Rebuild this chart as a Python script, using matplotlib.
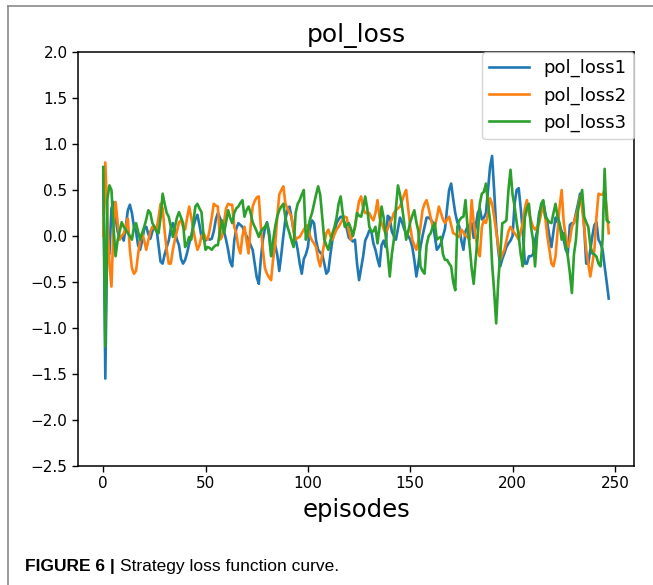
import numpy as np
import matplotlib
matplotlib.use('Agg')
import matplotlib.pyplot as plt
from matplotlib.lines import Line2D

# values, episodes 0..247
pol_loss1 = [
    0.65, -1.55, 0.10, -0.20, 0.30, 0.37, 0.20, 0.05, -0.02, 0.00,
    -0.05, 0.10, 0.28, 0.34, 0.25, 0.10, 0.05, -0.10, -0.15, -0.05,
    0.08, 0.10, 0.02, -0.03, 0.05, 0.10, 0.08, -0.10, -0.28, -0.30,
    -0.20, -0.12, -0.05, 0.08, 0.14, 0.05, -0.04, -0.10, -0.25, -0.30,
    -0.26, -0.18, -0.08, 0.00, 0.10, 0.18, 0.23, 0.12, -0.01, -0.03,
    -0.05, -0.02, -0.04, -0.03, 0.05, 0.18, 0.25, 0.20, 0.14, 0.05,
    -0.04, -0.15, -0.28, -0.33, -0.05, 0.08, 0.14, 0.12, 0.10, 0.05,
    0.00, -0.04, -0.10, -0.15, -0.30, -0.45, -0.52, -0.25, -0.04, 0.08,
    0.15, 0.05, -0.15, -0.22, -0.10, -0.20, -0.38, -0.20, 0.00, 0.18,
    0.28, 0.32, 0.20, 0.06, -0.04, -0.15, -0.30, -0.41, -0.25, -0.20,
    -0.12, 0.08, 0.17, 0.14, -0.05, -0.15, -0.18, -0.20, -0.30, -0.41,
    -0.38, -0.20, -0.04, 0.05, 0.14, 0.18, 0.21, 0.20, 0.14, 0.08,
    -0.02, -0.04, -0.06, -0.04, -0.30, -0.48, -0.35, -0.22, -0.05, 0.00,
    0.06, 0.05, -0.08, -0.15, -0.25, -0.33, -0.10, -0.05, -0.12, 0.22,
    0.20, 0.05, 0.00, -0.04, 0.08, 0.20, 0.15, 0.08, 0.03, 0.00,
    -0.04, -0.12, -0.26, -0.44, -0.30, -0.12, 0.00, 0.10, 0.20, 0.20,
    0.18, 0.15, 0.00, -0.15, -0.12, -0.08, 0.00, 0.08, 0.30, 0.50,
    0.57, 0.40, 0.25, 0.15, 0.10, -0.05, -0.15, 0.05, 0.10, 0.12,
    0.14, -0.02, 0.10, 0.25, 0.30, 0.18, 0.20, 0.25, 0.50, 0.75,
    0.87, 0.50, 0.10, -0.15, -0.33, -0.25, -0.19, -0.12, -0.08, -0.05,
    0.00, 0.35, 0.50, 0.52, 0.30, 0.05, -0.30, -0.30, -0.22, -0.22,
    -0.20, -0.05, 0.05, 0.25, 0.32, 0.37, 0.25, 0.14, 0.00, -0.12,
    0.05, 0.20, 0.15, 0.12, 0.05, -0.04, -0.15, -0.19, 0.12, 0.14,
    0.14, 0.25, 0.35, 0.46, 0.38, 0.10, -0.30, -0.30, -0.15, 0.00,
    0.12, 0.15, -0.04, -0.08, -0.15, -0.33, -0.50, -0.68,
]

pol_loss2 = [
    0.00, 0.80, 0.20, -0.30, -0.55, 0.10, 0.37, 0.15, -0.04, 0.00,
    0.03, 0.10, 0.19, -0.15, -0.35, -0.41, -0.38, -0.20, -0.05, 0.03,
    -0.05, -0.15, -0.05, 0.05, 0.10, 0.08, 0.07, 0.20, 0.35, 0.30,
    0.05, -0.15, -0.30, -0.30, -0.15, -0.04, 0.05, 0.15, 0.17, 0.10,
    0.07, 0.20, 0.32, 0.20, 0.07, -0.05, -0.15, -0.10, 0.00, 0.03,
    -0.02, -0.04, 0.07, 0.20, 0.35, 0.33, 0.32, -0.04, -0.01, 0.15,
    0.30, 0.35, 0.34, 0.34, 0.10, 0.03, -0.12, -0.19, 0.00, 0.10,
    -0.05, -0.19, 0.10, 0.32, 0.38, 0.42, 0.43, 0.10, -0.15, -0.35,
    -0.41, -0.45, -0.48, -0.25, -0.10, 0.20, 0.45, 0.50, 0.54, 0.35,
    0.30, 0.25, 0.21, 0.05, -0.04, -0.02, -0.01, 0.03, 0.07, 0.10,
    0.12, 0.00, -0.05, -0.08, -0.12, -0.25, -0.33, -0.20, -0.08, 0.03,
    0.07, 0.00, -0.04, 0.02, 0.07, 0.10, 0.14, 0.18, 0.21, 0.20,
    0.05, -0.04, 0.03, 0.10, 0.25, 0.38, 0.43, 0.30, 0.25, 0.25,
    0.25, 0.20, 0.17, 0.25, 0.39, 0.20, 0.14, 0.08, 0.03, 0.08,
    0.14, 0.18, 0.25, 0.28, 0.30, 0.32, 0.38, 0.45, 0.50, 0.30,
    0.10, -0.04, -0.10, -0.15, -0.05, 0.10, 0.28, 0.35, 0.39, 0.30,
    0.20, 0.10, 0.10, 0.20, 0.32, 0.25, 0.18, 0.14, 0.18, 0.21,
    0.12, 0.03, 0.02, 0.00, -0.01, 0.07, 0.04, 0.00, -0.01, -0.04,
    0.39, 0.15, -0.01, -0.15, -0.22, 0.10, 0.17, 0.14, 0.25, 0.41,
    0.35, 0.21, 0.05, -0.10, -0.26, -0.20, -0.15, -0.05, 0.05, 0.10,
    0.06, 0.03, 0.00, -0.04, 0.05, 0.14, 0.30, 0.39, 0.25, 0.17,
    0.10, 0.07, 0.10, 0.14, 0.25, 0.32, 0.20, 0.00, -0.15, -0.30,
    -0.33, -0.22, 0.05, 0.32, 0.50, 0.15, -0.01, -0.12, -0.05, 0.10,
    0.15, 0.22, 0.30, 0.43, 0.30, 0.10, -0.15, -0.30, -0.44, -0.30,
    -0.15, 0.20, 0.46, 0.45, 0.45, 0.50, 0.30, 0.03,
]

pol_loss3 = [
    0.75, -1.20, 0.40, 0.55, 0.50, 0.10, -0.22, -0.05, 0.05, 0.15,
    0.10, 0.07, 0.03, 0.00, -0.04, 0.10, 0.14, 0.05, -0.04, 0.03,
    0.10, 0.18, 0.28, 0.25, 0.14, 0.10, 0.05, 0.03, 0.20, 0.46,
    0.35, 0.25, 0.21, 0.10, -0.01, 0.10, 0.20, 0.26, 0.20, 0.14,
    -0.12, -0.08, -0.01, -0.04, 0.15, 0.32, 0.35, 0.30, 0.26, 0.00,
    -0.15, -0.12, -0.13, -0.15, -0.12, -0.10, -0.10, 0.05, 0.17, 0.03,
    0.15, 0.28, 0.20, 0.14, 0.25, 0.30, 0.32, 0.36, 0.39, 0.21,
    0.28, 0.32, 0.25, 0.15, 0.10, 0.05, -0.01, 0.05, 0.08, 0.10,
    0.14, 0.00, -0.22, -0.05, 0.10, 0.21, 0.28, 0.32, 0.35, 0.20,
    0.10, 0.03, -0.05, -0.12, 0.25, 0.35, 0.39, 0.45, 0.50, -0.04,
    0.05, 0.18, 0.25, 0.35, 0.45, 0.54, 0.45, 0.20, -0.04, -0.10,
    -0.15, -0.05, 0.03, 0.10, 0.20, 0.35, 0.43, 0.25, 0.10, 0.12,
    0.14, 0.08, 0.00, 0.10, 0.25, 0.22, 0.21, 0.30, 0.43, 0.30,
    0.10, 0.05, 0.05, 0.10, -0.08, 0.10, 0.32, 0.20, 0.00, -0.20,
    -0.44, -0.20, -0.04, 0.30, 0.55, 0.45, 0.32, 0.15, -0.04, 0.05,
    0.15, 0.22, 0.28, 0.15, 0.05, -0.33, -0.38, -0.41, -0.10, 0.00,
    0.03, 0.10, 0.14, -0.04, -0.02, -0.01, -0.20, -0.26, -0.26, -0.30,
    -0.33, -0.50, -0.59, 0.10, 0.17, 0.20, 0.21, 0.39, 0.10, -0.10,
    -0.35, -0.52, -0.25, 0.00, 0.35, 0.46, 0.48, 0.57, 0.35, 0.17,
    -0.30, -0.60, -0.95, -0.50, -0.20, 0.14, 0.15, 0.17, 0.50, 0.72,
    0.45, 0.32, 0.15, 0.00, -0.20, -0.33, 0.20, 0.30, 0.35, 0.10,
    -0.04, -0.33, 0.00, 0.21, 0.35, 0.39, 0.21, 0.18, 0.15, 0.14,
    0.25, 0.35, 0.21, 0.14, -0.04, 0.03, -0.10, -0.22, -0.40, -0.62,
    -0.20, -0.04, 0.28, 0.40, 0.50, 0.21, 0.15, 0.10, -0.10, -0.19,
    -0.20, -0.225, -0.30, -0.33, -0.04, 0.73, 0.17, 0.15,
]

series = [('pol_loss1', pol_loss1), ('pol_loss2', pol_loss2), ('pol_loss3', pol_loss3)]
yticks = [-2.5, -2.0, -1.5, -1.0, -0.5, 0.0, 0.5, 1.0, 1.5, 2.0]
xticks = [0, 50, 100, 150, 200, 250]

fig = plt.figure(figsize=(6.53, 5.85), dpi=100)
ax = fig.add_axes([78/653, 1-466/585, (634-78)/653, (466-52)/585])

for name, vals in series:
    ax.plot(np.arange(len(vals)), vals, label=name, linewidth=1.9)

ax.set_ylim(-2.5, 2.0)
ax.set_yticks(yticks)
ax.set_xticks(xticks)
ax.tick_params(labelsize=11, length=4, width=1)
for sp in ax.spines.values():
    sp.set_linewidth(1.1)
ax.set_title('pol_loss', fontsize=18, pad=7)
ax.set_xlabel('episodes', fontsize=17.5, labelpad=5)
ax.legend(loc='upper right', bbox_to_anchor=(1.0, 1.0), borderaxespad=0,
          fontsize=13, handlelength=2.2)

# page frame: top and left rule
fig.add_artist(Line2D([8/653, 1], [1-6/585, 1-6/585], color='#8a8a8a', linewidth=1.2))
fig.add_artist(Line2D([8/653, 8/653], [0, 1-6/585], color='#8a8a8a', linewidth=1.2))

# caption
cap_fam = ['Liberation Sans Narrow', 'Liberation Sans', 'DejaVu Sans']
t1 = fig.text(25/653, 1-566/585, 'FIGURE 6 | ', fontsize=12.5, fontweight='bold',
              family=cap_fam, va='center', ha='left')
fig.canvas.draw()
bb = t1.get_window_extent(renderer=fig.canvas.get_renderer())
fig.text(bb.x1/fig.bbox.width, 1-566/585, 'Strategy loss function curve.', fontsize=12.5,
         family=cap_fam, va='center', ha='left')

plt.savefig('out.png', dpi=100)
print('job done')
